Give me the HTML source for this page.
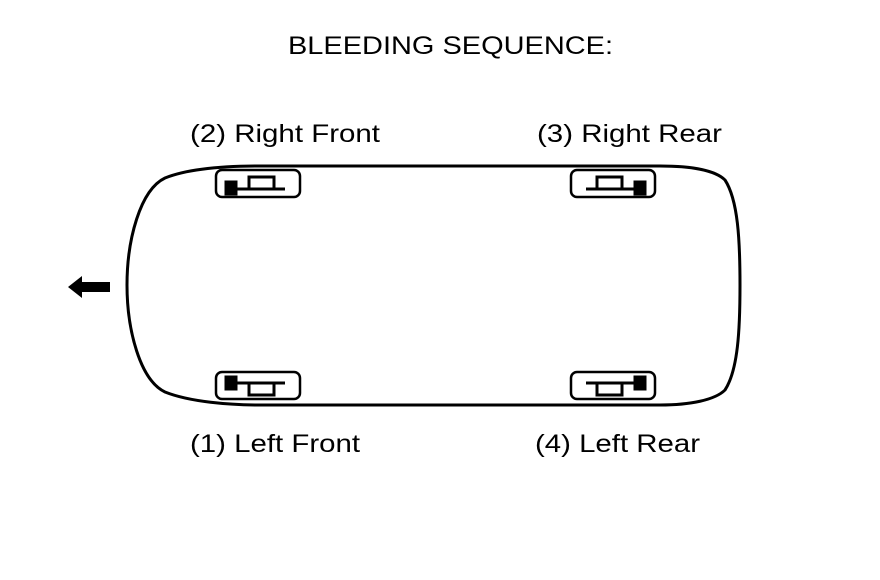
<!DOCTYPE html>
<html><head><style>body{margin:0;background:#fff}svg{display:block}</style></head><body>
<svg width="880" height="580" viewBox="0 0 880 580" xmlns="http://www.w3.org/2000/svg" font-family="Liberation Sans, sans-serif">
<rect width="880" height="580" fill="#fff"/>
<text x="288" y="54" font-size="25" textLength="325" lengthAdjust="spacingAndGlyphs">BLEEDING SEQUENCE:</text>
<text x="190" y="142" font-size="25" textLength="190" lengthAdjust="spacingAndGlyphs">(2) Right Front</text>
<text x="537" y="142" font-size="25" textLength="185" lengthAdjust="spacingAndGlyphs">(3) Right Rear</text>
<text x="190" y="452" font-size="25" textLength="170" lengthAdjust="spacingAndGlyphs">(1) Left Front</text>
<text x="535" y="452" font-size="25" textLength="165" lengthAdjust="spacingAndGlyphs">(4) Left Rear</text>
<path d="M165,178 C190,168 230,166 260,166 L660,166 C690,166 715,170 725,180 C738,200 740,240 740,285 C740,330 738,370 725,390 C715,400 690,405 660,405 L260,405 C230,405 190,402 165,392 C140,380 127,330 127,285 C127,240 140,190 165,178 Z" fill="none" stroke="#000" stroke-width="3"/>
<polygon points="68,287 82,276 82,282 110,282 110,292 82,292 82,298" fill="#000"/>
<g fill="none" stroke="#000" stroke-width="2.5">
<rect x="216" y="170" width="84" height="27" rx="6"/>
<rect x="571" y="170" width="84" height="27" rx="6"/>
<rect x="216" y="372" width="84" height="27" rx="6"/>
<rect x="571" y="372" width="84" height="27" rx="6"/>
</g>
<g stroke="#000" stroke-width="3" fill="none">
<rect x="226" y="182" width="10" height="12" fill="#000"/>
<line x1="236" y1="189" x2="285" y2="189"/>
<path d="M249,189 V177 H274 V189"/>
<rect x="635" y="182" width="10" height="12" fill="#000"/>
<line x1="586" y1="189" x2="635" y2="189"/>
<path d="M597,189 V177 H622 V189"/>
<rect x="226" y="377" width="10" height="12" fill="#000"/>
<line x1="236" y1="383" x2="285" y2="383"/>
<path d="M249,383 V395 H274 V383"/>
<rect x="635" y="377" width="10" height="12" fill="#000"/>
<line x1="586" y1="383" x2="635" y2="383"/>
<path d="M597,383 V395 H622 V383"/>
</g>
</svg>
</body></html>
